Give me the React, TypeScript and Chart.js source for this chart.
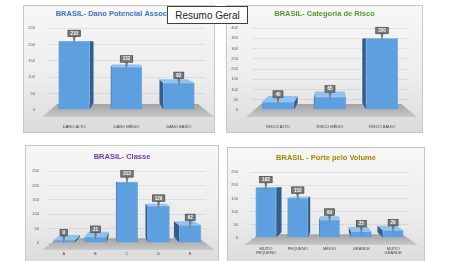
import React, { useEffect, useRef } from "react";
import { Chart, registerables } from "chart.js";
Chart.register(...registerables);

const FONT = "'Liberation Sans', Arial, sans-serif";

// ---- data ----
const danoTitle = "BRASIL- Dano Potencial Associado";
const danoCategories = ["DANO ALTO", "DANO MÉDIO", "DANO BAIXO"];
const danoValues = [210, 132, 82];
const danoMax = 250;

const riscoTitle = "BRASIL- Categoria de Risco";
const riscoCategories = ["RISCO ALTO", "RISCO MÉDIO", "RISCO BAIXO"];
const riscoValues = [40, 65, 350];
const riscoMax = 400;

const classeTitle = "BRASIL- Classe";
const classeCategories = ["A", "B", "C", "D", "E"];
const classeValues = [9, 21, 213, 129, 62];
const classeMax = 250;

const porteTitle = "BRASIL - Porte pelo Volume";
const porteCategories = [["MUITO", "PEQUENO"], "PEQUENO", "MÉDIO", "GRANDE", ["MUITO", "GRANDE"]];
const porteValues = [192, 152, 69, 25, 29];
const porteMax = 250;

const tickStep = 50;

const panel3d = {
  id: "panel3d",
  beforeDraw(chart: any, _a: any, opts: any) {
    const { ctx, width, height } = chart;
    ctx.save();
    const g = ctx.createLinearGradient(0, 0, 0, height);
    g.addColorStop(0, "#f7f7f7");
    g.addColorStop(0.6, "#ececec");
    g.addColorStop(1, "#dadada");
    ctx.fillStyle = g;
    ctx.fillRect(0, 0, width, height);
    ctx.strokeStyle = "#c6c6c6";
    ctx.lineWidth = 1;
    ctx.strokeRect(0.5, 0.5, width - 1, height - 1);
    ctx.font = "bold 7.5px " + FONT;
    ctx.fillStyle = opts.titleColor;
    ctx.textAlign = "center";
    ctx.textBaseline = "middle";
    ctx.fillText(opts.title, width / 2 + (opts.titleDx || 0), opts.titleY);
    ctx.restore();
  },
  beforeDatasetsDraw(chart: any, _a: any, opts: any) {
    const { ctx, chartArea: ca } = chart;
    const meta = chart.getDatasetMeta(0);
    const base = chart.scales.y.getPixelForValue(0);
    const vx = (ca.left + ca.right) / 2;
    const vy = ca.top + 0.2 * (base - ca.top);
    const back = (x: number, y: number, s: number) => [x + (vx - x) * s, y + (vy - y) * s];
    const fy = base + 7;
    const fl = ca.left - 6;
    const fr = ca.right + 9;
    const [blx, bly] = back(fl, fy, 0.18);
    const [brx, bry] = back(fr, fy, 0.18);
    ctx.save();
    const fg = ctx.createLinearGradient(0, bly, 0, fy);
    fg.addColorStop(0, "#a3a3a3");
    fg.addColorStop(1, "#c9c9c9");
    ctx.fillStyle = fg;
    ctx.beginPath();
    ctx.moveTo(fl, fy);
    ctx.lineTo(fr, fy);
    ctx.lineTo(brx, bry);
    ctx.lineTo(blx, bly);
    ctx.closePath();
    ctx.fill();
    meta.data.forEach((el: any) => {
      const { x, y, base: b, width: w } = el.getProps(["x", "y", "base", "width"], true);
      const x1 = x - w / 2;
      const x2 = x + w / 2;
      const s = 0.1;
      const sideX = x < vx ? x2 : x1;
      const [sxT, syT] = back(sideX, y, s);
      const [sxB, syB] = back(sideX, b, s);
      ctx.fillStyle = "#2f5f92";
      ctx.beginPath();
      ctx.moveTo(sideX, y);
      ctx.lineTo(sideX, b);
      ctx.lineTo(sxB, syB);
      ctx.lineTo(sxT, syT);
      ctx.closePath();
      ctx.fill();
      if (y > vy) {
        const [t1x, t1y] = back(x1, y, s);
        const [t2x, t2y] = back(x2, y, s);
        ctx.fillStyle = "#8ec2f0";
        ctx.beginPath();
        ctx.moveTo(x1, y);
        ctx.lineTo(x2, y);
        ctx.lineTo(t2x, t2y);
        ctx.lineTo(t1x, t1y);
        ctx.closePath();
        ctx.fill();
      }
    });
    ctx.restore();
  },
  afterDatasetsDraw(chart: any) {
    const { ctx } = chart;
    const meta = chart.getDatasetMeta(0);
    const data = chart.data.datasets[0].data;
    ctx.save();
    ctx.font = "bold 4.5px " + FONT;
    ctx.textAlign = "center";
    ctx.textBaseline = "middle";
    meta.data.forEach((el: any, i: number) => {
      const txt = String(data[i]);
      const tw = ctx.measureText(txt).width;
      const bw = tw + 5;
      const bh = 6.5;
      const cx = el.x;
      const bb = el.y - 4.5;
      ctx.fillStyle = "#7a7a7a";
      ctx.strokeStyle = "#3c3c3c";
      ctx.lineWidth = 0.6;
      ctx.beginPath();
      ctx.moveTo(cx - 1.5, bb);
      ctx.lineTo(cx, el.y + 3.5);
      ctx.lineTo(cx + 1.5, bb);
      ctx.closePath();
      ctx.fill();
      ctx.fillRect(cx - bw / 2, bb - bh, bw, bh);
      ctx.strokeRect(cx - bw / 2, bb - bh, bw, bh);
      ctx.fillStyle = "#ffffff";
      ctx.fillText(txt, cx, bb - bh / 2 + 0.3);
    });
    ctx.restore();
  },
};

type PanelProps = {
  left: number; top: number; w: number; h: number;
  cl: number; cr: number; ct: number; cb: number;
  yPad: number; xPad: number; barPct: number;
  title: string; titleColor: string; titleY: number; titleDx?: number;
  labels: any[]; values: number[]; max: number;
};

function Panel(p: PanelProps) {
  const ref = useRef<HTMLCanvasElement>(null);
  useEffect(() => {
    if (!ref.current) return;
    const chart = new Chart(ref.current, {
      type: "bar",
      data: {
        labels: p.labels,
        datasets: [{
          data: p.values,
          backgroundColor: "#5e9fdf",
          borderColor: "#4a86c4",
          borderWidth: 0.5,
          barPercentage: p.barPct,
          categoryPercentage: 1,
        }],
      },
      options: {
        responsive: false,
        maintainAspectRatio: false,
        animation: false,
        devicePixelRatio: 1,
        layout: { padding: { left: 0, right: p.w - p.cr, top: p.ct, bottom: 0 } },
        plugins: {
          legend: { display: false },
          tooltip: { enabled: false },
          title: { display: false },
          panel3d: { title: p.title, titleColor: p.titleColor, titleY: p.titleY, titleDx: p.titleDx },
        } as any,
        scales: {
          x: {
            offset: true,
            grid: { display: false, drawTicks: false },
            border: { display: false },
            ticks: { font: { size: 4, family: FONT }, color: "#404040", padding: p.xPad, maxRotation: 0, autoSkip: false },
            afterFit(s: any) { s.height = p.h - p.cb; },
          },
          y: {
            min: 0,
            max: p.max,
            grid: { color: "rgba(0,0,0,0.07)", drawTicks: false },
            border: { display: false },
            ticks: { stepSize: tickStep, font: { size: 4, family: FONT }, color: "#595959", padding: p.yPad },
            afterFit(s: any) { s.width = p.cl; },
          },
        },
      },
      plugins: [panel3d],
    });
    return () => chart.destroy();
  }, []);
  return (
    <canvas
      ref={ref}
      width={p.w}
      height={p.h}
      style={{ position: "absolute", left: p.left, top: p.top, width: p.w, height: p.h, display: "block" }}
    />
  );
}

export default function App() {
  return (
    <div style={{ position: "fixed", left: 0, top: 0, width: 465, height: 261, background: "#ffffff", overflow: "hidden" }}>
      <Panel left={23} top={5} w={192} h={128} cl={25} cr={182} ct={23} cb={105} yPad={13} xPad={14} barPct={0.6}
        title={danoTitle} titleColor="#3a6fc8" titleY={9} labels={danoCategories} values={danoValues} max={danoMax} />
      <Panel left={226} top={5} w={197} h={128} cl={26} cr={182} ct={23} cb={105} yPad={14} xPad={14} barPct={0.62}
        title={riscoTitle} titleColor="#4f9a33" titleY={9} labels={riscoCategories} values={riscoValues} max={riscoMax} />
      <Panel left={25} top={145} w={194} h={120} cl={23} cr={181} ct={26} cb={98} yPad={9} xPad={8} barPct={0.7}
        title={classeTitle} titleColor="#7a35b0" titleY={12} labels={classeCategories} values={classeValues} max={classeMax} />
      <Panel left={227} top={147} w={198} h={118} cl={23} cr={182} ct={25} cb={91} yPad={12} xPad={8} barPct={0.65}
        title={porteTitle} titleColor="#a88400" titleY={11} labels={porteCategories} values={porteValues} max={porteMax} />
      <div style={{
        position: "absolute", left: 167, top: 6, width: 79, height: 16, background: "#ffffff",
        border: "1px solid #3f3f3f", fontFamily: FONT, fontSize: 10, color: "#222",
        display: "flex", alignItems: "center", justifyContent: "center", boxSizing: "content-box",
      }}>Resumo Geral</div>
    </div>
  );
}
